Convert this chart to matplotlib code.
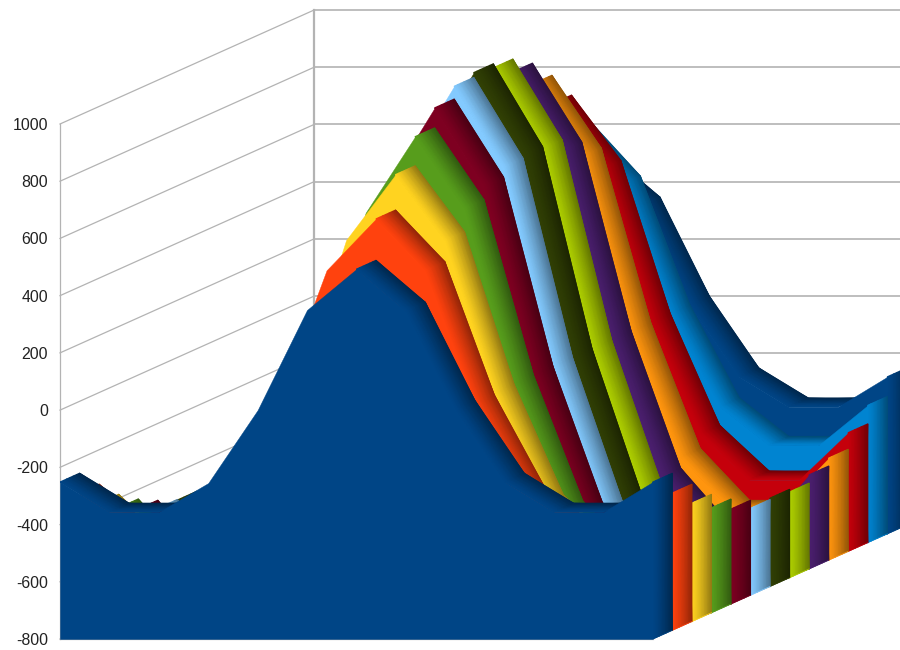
import matplotlib
matplotlib.use("Agg")
import matplotlib.pyplot as plt
import numpy as np
from matplotlib.colors import LinearSegmentedColormap, to_rgb

# values per series, front to back, one value per category
row_01 = [-251, -356, -356, -255, 0, 350, 493, 346, 4, -251, -356, -356, -251]
row_02 = [-320, -460, -460, -328, -5, 458, 638, 457, -8, -325, -460, -460, -320]
row_03 = [-386, -549, -549, -392, 0, 533, 762, 531, 0, -388, -549, -549, -386]
row_04 = [-433, -622, -622, -445, 0, 598, 864, 612, 0, -440, -622, -622, -433]
row_05 = [-468, -672, -672, -481, 0, 654, 934, 661, 0, -476, -672, -672, -468]
row_06 = [-496, -705, -705, -504, 0, 696, 979, 696, 0, -499, -705, -705, -496]
row_07 = [-498, -717, -717, -513, 0, 706, 996, 706, 0, -508, -717, -717, -491]
row_08 = [-500, -707, -707, -506, 0, 699, 982, 699, 0, -500, -707, -707, -500]
row_09 = [-471, -675, -675, -483, 0, 661, 937, 661, 0, -478, -675, -675, -471]
row_10 = [-443, -622, -622, -445, 0, 609, 864, 609, 0, -440, -622, -622, -443]
row_11 = [-385, -550, -550, -393, 0, 535, 764, 535, 0, -390, -550, -550, -385]
row_12 = [-320, -460, -460, -328, 0, 455, 638, 450, 0, -325, -460, -460, -320]
row_13 = [-251, -356, -356, -255, 0, 350, 493, 346, 0, -251, -356, -356, -251]
rows = [row_01, row_02, row_03, row_04, row_05, row_06, row_07,
        row_08, row_09, row_10, row_11, row_12, row_13]

colors = ["#004586", "#ff420e", "#ffd320", "#579d1c", "#7e0021", "#83caff", "#314004",
          "#aecf00", "#4b1f6f", "#ff950e", "#c5000b", "#0084d1", "#004586"]

ticks = [-800, -600, -400, -200, 0, 200, 400, 600, 800, 1000]
tick_labels = ["-800", "-600", "-400", "-200", "0", "200", "400", "600", "800", "1000"]

# pixels of the picture, used only to set up the axes
W, H = 900, 650
LEFT, BOTTOM, TOP_1000 = 60, 639, 124
CAT_PX = 49.4
VAL_PX = (BOTTOM - TOP_1000) / 1800

# one series is this deep, in category and value units
DX = 19.55 / CAT_PX
DY = 8.77 / VAL_PX
GRID = "#b3b3b3"


def darker(color, t):
    f = 1 - 0.42 * t ** 1.3
    r, g, b = to_rgb(color)
    return (r * f, g * f, b * f)


fig = plt.figure(figsize=(W / 100, H / 100), dpi=100, facecolor="white")
ax = fig.add_axes([LEFT / W, (H - BOTTOM) / H, (W - LEFT) / W, BOTTOM / H])
ax.set_xlim(0, (W - LEFT) / CAT_PX)
ax.set_ylim(-800, -800 + BOTTOM / VAL_PX)
ax.patch.set_visible(False)
for side in ax.spines.values():
    side.set_visible(False)
ax.set_xticks([])
ax.set_yticks(ticks)
ax.set_yticklabels(tick_labels, family="Liberation Sans", fontsize=11.4, color="#222222")
ax.tick_params(axis="y", length=0, pad=8.6)

# walls
back_x = len(rows) * DX
back_y = len(rows) * DY
for v in ticks:
    ax.plot([0, back_x], [v, v + back_y], color=GRID, lw=0.9, zorder=1, clip_on=False)
    ax.plot([back_x, ax.get_xlim()[1]], [v + back_y, v + back_y], color=GRID, lw=1.2, zorder=1)
ax.plot([0, 0], [ticks[0], ticks[-1]], color=GRID, lw=0.9, zorder=1, clip_on=False)
ax.plot([back_x, back_x], [ticks[0] + back_y, ticks[-1] + back_y], color=GRID, lw=1.6, zorder=1)
ax.plot([0, len(row_01) - 1], [ticks[0], ticks[0]], color=GRID, lw=0.9, zorder=1, clip_on=False)

depth_t = np.linspace(0, 1, 7)
z = 2
# back series first, so the nearer ones cover them
for s in range(len(rows) - 1, -1, -1):
    values = np.array(rows[s], dtype=float)
    color = colors[s]
    n = len(values)
    cats = np.arange(n)
    cmap = LinearSegmentedColormap.from_list("s", [darker(color, t) for t in np.linspace(0, 1, 16)])
    edge = darker(color, 1)

    # top of the ribbon, the colour runs across the depth
    for c in range(n - 1):
        # steep rises face away from the viewer, the front face hides them
        if values[c + 1] - values[c] > DY / DX:
            continue
        X = np.array([cats[c:c + 2] + (s + t) * DX for t in depth_t])
        Y = np.array([values[c:c + 2] + (s + t) * DY for t in depth_t])
        C = np.array([[t, t] for t in depth_t])
        ax.pcolormesh(X, Y, C, shading="gouraud", cmap=cmap, vmin=0, vmax=1, zorder=z)
        ax.plot(X[-1], Y[-1], color=edge, lw=0.5, zorder=z)
        z += 1

    # right end of the series
    end_x = n - 1 + (s + depth_t) * DX
    X = np.array([end_x, end_x])
    Y = np.array([-800 + (s + depth_t) * DY, values[-1] + (s + depth_t) * DY])
    C = np.array([depth_t, depth_t])
    ax.pcolormesh(X, Y, C, shading="gouraud", cmap=cmap, vmin=0, vmax=1, zorder=z)
    ax.plot(X[0], Y[0], color=color, lw=0.5, zorder=z)
    z += 1

    # flat front of the series
    ax.fill_between(cats + s * DX, values + s * DY, -800 + s * DY, color=color, lw=0.3, zorder=z)
    z += 1

fig.savefig("out.png", dpi=100, facecolor="white")
